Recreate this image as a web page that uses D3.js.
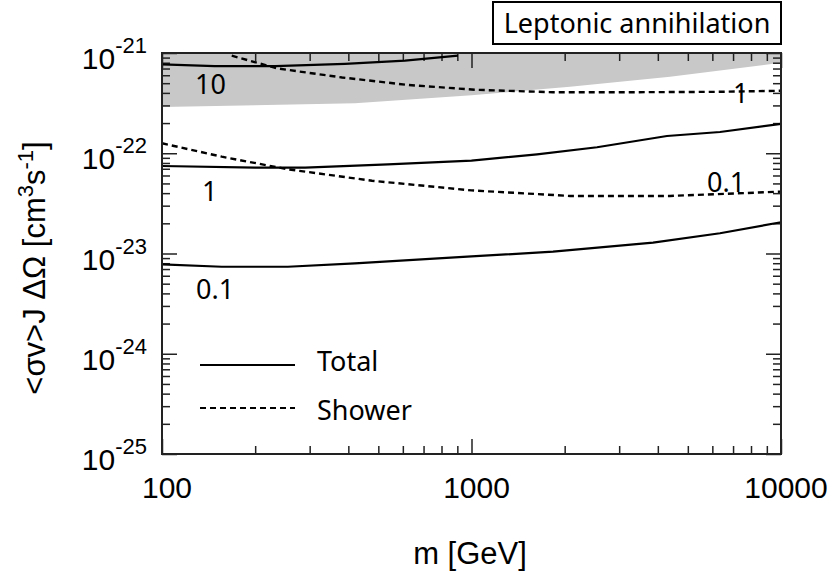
<!DOCTYPE html>
<head>
  <meta charset="utf-8">
  <script src="https://d3js.org/d3.v7.min.js"></script>
  <style>
    body { margin:0; background:#fff; }
    svg { display:block; }
  </style>
</head>
<body>
<script>
// curves: m [GeV] and <sigma v> J dOmega [cm^3 s^-1]
var mTotal10 = [100, 148, 232, 390, 610, 904];
var sTotal10 = [7.7e-22, 7.4e-22, 7.4e-22, 7.8e-22, 8.4e-22, 9.4e-22];

var mShower10 = [168, 237, 382, 623, 1026, 1834, 3250, 6350, 10000];
var sShower10 = [9.4e-22, 7.0e-22, 5.7e-22, 4.8e-22, 4.3e-22, 4.06e-22, 4.06e-22, 4.1e-22, 4.2e-22];

var mTotal1 = [100, 200, 290, 537, 1000, 1628, 2544, 4280, 6350, 10000];
var sTotal1 = [7.46e-23, 7.18e-23, 7.18e-23, 7.76e-23, 8.45e-23, 9.76e-23, 1.147e-22, 1.486e-22, 1.63e-22, 1.96e-22];

var mShower1 = [100, 156, 255, 477, 1000, 2081, 4380, 10000];
var sShower1 = [1.257e-22, 9.24e-23, 6.92e-23, 5.32e-23, 4.26e-23, 3.75e-23, 3.75e-23, 4.14e-23];

var mTotal01 = [100, 156, 255, 420, 1000, 1834, 3860, 6350, 10000];
var sTotal01 = [7.8e-24, 7.38e-24, 7.38e-24, 7.98e-24, 9.35e-24, 1.042e-23, 1.282e-23, 1.592e-23, 2.05e-23];

// lower edge of the grey band (upper edge is off the top of the plot)
var mBand = [100, 420, 1000, 2081, 4380, 9710, 10000];
var sBandLow = [2.9e-22, 3.15e-22, 3.8e-22, 4.6e-22, 5.8e-22, 7.9e-22, 8.0e-22];

var xMajor = [100, 1000, 10000];
var xLabels = ["100", "1000", "10000"];
var yMajorExp = [-21, -22, -23, -24, -25];

var W = 830, H = 572;
var L = 162, R = 781, T = 53, B = 454;

var svg = d3.select("body").append("svg").attr("width", W).attr("height", H);

var x = d3.scaleLog().domain([100, 10000]).range([L, R]);
var y = d3.scaleLog().domain([1e-25, 1e-21]).range([B, T]);

var zip = function(ms, ss) { return ms.map(function(m, i) { return [m, ss[i]]; }); };

// grey band
var area = d3.area()
  .x(function(d) { return x(d[0]); })
  .y0(function(d) { return y(d[1]); })
  .y1(function() { return y(y.domain()[1]); });
svg.append("path").datum(zip(mBand, sBandLow))
  .attr("d", area).attr("fill", "#c8c8c8");

// ticks
var minorX = [];
[100, 1000].forEach(function(d) { for (var k = 2; k <= 9; k++) minorX.push(d * k); });
var minorY = [];
[1e-25, 1e-24, 1e-23, 1e-22].forEach(function(d) { for (var k = 2; k <= 9; k++) minorY.push(d * k); });
var majorY = yMajorExp.map(function(e) { return Math.pow(10, e); });

function tickAxis(axis, tr) {
  var g = svg.append("g").attr("transform", tr).call(axis);
  g.select(".domain").remove();
  g.selectAll("line").attr("stroke", "#222").attr("stroke-width", 1.5);
  g.selectAll("text").remove();
}
tickAxis(d3.axisBottom(x).tickValues(minorX).tickSize(-8), "translate(0," + B + ")");
tickAxis(d3.axisBottom(x).tickValues(xMajor).tickSize(-15), "translate(0," + B + ")");
tickAxis(d3.axisTop(x).tickValues(minorX).tickSize(-8), "translate(0," + T + ")");
tickAxis(d3.axisTop(x).tickValues(xMajor).tickSize(-15), "translate(0," + T + ")");
tickAxis(d3.axisLeft(y).tickValues(minorY).tickSize(-8), "translate(" + L + ",0)");
tickAxis(d3.axisLeft(y).tickValues(majorY).tickSize(-15), "translate(" + L + ",0)");
tickAxis(d3.axisRight(y).tickValues(minorY).tickSize(-8), "translate(" + R + ",0)");
tickAxis(d3.axisRight(y).tickValues(majorY).tickSize(-15), "translate(" + R + ",0)");

// curves
var line = d3.line().x(function(d) { return x(d[0]); }).y(function(d) { return y(d[1]); });
var curves = [
  [mTotal10, sTotal10, false], [mShower10, sShower10, true],
  [mTotal1, sTotal1, false], [mShower1, sShower1, true],
  [mTotal01, sTotal01, false]
];
curves.forEach(function(c) {
  svg.append("path").datum(zip(c[0], c[1]))
    .attr("d", line).attr("fill", "none").attr("stroke", "#000")
    .attr("stroke-width", c[2] ? 2.4 : 2.2)
    .attr("stroke-dasharray", c[2] ? "6,4" : null);
});

// frame
svg.append("rect").attr("x", L).attr("y", T).attr("width", R - L).attr("height", B - T)
  .attr("fill", "none").attr("stroke", "#222").attr("stroke-width", 2);

// tick labels
var axisFont = "'Liberation Sans', Arial, sans-serif";
xMajor.forEach(function(v, i) {
  svg.append("text").attr("x", x(v) + 5).attr("y", B + 44)
    .attr("text-anchor", "middle").attr("font-family", axisFont).attr("font-size", 30)
    .text(xLabels[i]);
});
yMajorExp.forEach(function(e) {
  var yy = y(Math.pow(10, e));
  var t = svg.append("text").attr("x", 147).attr("y", yy + 16)
    .attr("text-anchor", "end").attr("font-family", axisFont).attr("font-size", 30);
  t.append("tspan").text("10");
  t.append("tspan").attr("dy", -16).attr("font-size", 22).text(String(e));
});

// axis titles
svg.append("text").attr("x", 470).attr("y", 564).attr("text-anchor", "middle")
  .attr("font-family", axisFont).attr("font-size", 31).text("m [GeV]");
var yt = svg.append("text").attr("transform", "translate(45,268) rotate(-90)")
  .attr("text-anchor", "middle").attr("font-family", axisFont).attr("font-size", 31);
yt.append("tspan").text("<σv>J ΔΩ [cm");
yt.append("tspan").attr("dy", -12).attr("font-size", 22).text("3");
yt.append("tspan").attr("dy", 12).text("s");
yt.append("tspan").attr("dy", -12).attr("font-size", 22).text("-1");
yt.append("tspan").attr("dy", 12).text("]");

// curve labels
var labFont = "'Noto Sans', sans-serif";
var curveLabels = [
  ["10", 195, 94], ["1", 202, 201], ["0.1", 196, 299], ["1", 733, 103], ["0.1", 707, 192]
];
curveLabels.forEach(function(d) {
  svg.append("text").attr("x", d[1]).attr("y", d[2])
    .attr("font-family", labFont).attr("font-size", 27).text(d[0]);
});

// legend
var legend = [["Total", null, 365, 371], ["Shower", "6,4", 408, 420]];
legend.forEach(function(d) {
  svg.append("line").attr("x1", 200).attr("x2", 295).attr("y1", d[2]).attr("y2", d[2])
    .attr("stroke", "#000").attr("stroke-width", 2).attr("stroke-dasharray", d[1]);
  svg.append("text").attr("x", 317).attr("y", d[3])
    .attr("font-family", labFont).attr("font-size", 27).text(d[0]);
});

// title box
svg.append("rect").attr("x", 493).attr("y", 2).attr("width", 288).attr("height", 42)
  .attr("fill", "#fff").attr("stroke", "#000").attr("stroke-width", 2);
svg.append("text").attr("x", 637).attr("y", 33).attr("text-anchor", "middle")
  .attr("font-family", labFont).attr("font-size", 27).text("Leptonic annihilation");
</script>
</body>
